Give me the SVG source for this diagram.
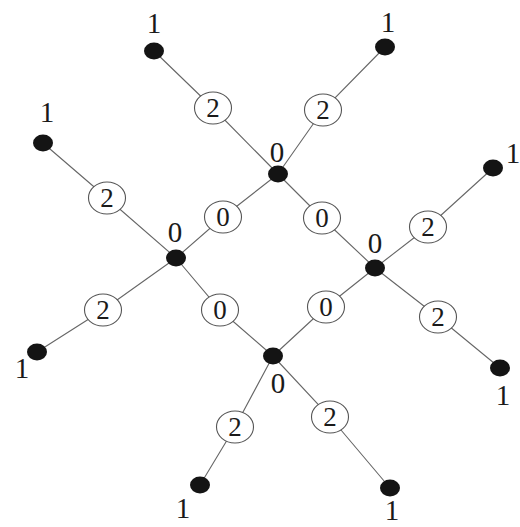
<svg xmlns="http://www.w3.org/2000/svg" width="520" height="527" viewBox="0 0 520 527">
<style>
.e{fill:none;stroke:#666;stroke-width:1.1}
.w{fill:#fff;stroke:#555;stroke-width:1.1}
.d{fill:#141414}
text{font-family:"Liberation Serif","Times New Roman",serif;fill:#1a1a1a;text-anchor:middle}
.n{font-size:29px}
.l{font-size:27px}
</style>
<rect width="520" height="527" fill="#fff"/>
<g id="connectors">
<polyline class="e" points="154,51 213,108 278,174"/>
<polyline class="e" points="385,47 323,110 278,174"/>
<polyline class="e" points="43,143 107,198 176,258"/>
<polyline class="e" points="278,174 223,217 176,258"/>
<polyline class="e" points="278,174 322,218 375,268"/>
<polyline class="e" points="493,168 428,227 375,268"/>
<polyline class="e" points="176,258 103,310 37,352"/>
<polyline class="e" points="176,258 220,310 273,356"/>
<polyline class="e" points="375,268 326,307 273,356"/>
<polyline class="e" points="375,268 438,317 500,368"/>
<polyline class="e" points="273,356 235,427 200,485"/>
<polyline class="e" points="273,356 330,417 390,488"/>
</g>
<g id="edge-labels">
<g id="e1"><ellipse class="w" cx="213" cy="108" rx="18.5" ry="16"/><text class="l" x="213" y="117">2</text></g>
<g id="e2"><ellipse class="w" cx="323" cy="110" rx="18.5" ry="16"/><text class="l" x="323" y="119">2</text></g>
<g id="e3"><ellipse class="w" cx="107" cy="198" rx="18.5" ry="16"/><text class="l" x="107" y="207">2</text></g>
<g id="e4"><ellipse class="w" cx="223" cy="217" rx="18.5" ry="16"/><text class="l" x="223" y="226">0</text></g>
<g id="e5"><ellipse class="w" cx="322" cy="218" rx="18.5" ry="16"/><text class="l" x="322" y="227">0</text></g>
<g id="e6"><ellipse class="w" cx="428" cy="227" rx="18.5" ry="16"/><text class="l" x="428" y="236">2</text></g>
<g id="e7"><ellipse class="w" cx="103" cy="310" rx="18.5" ry="16"/><text class="l" x="103" y="319">2</text></g>
<g id="e8"><ellipse class="w" cx="220" cy="310" rx="18.5" ry="16"/><text class="l" x="220" y="319">0</text></g>
<g id="e9"><ellipse class="w" cx="326" cy="307" rx="18.5" ry="16"/><text class="l" x="326" y="316">0</text></g>
<g id="e10"><ellipse class="w" cx="438" cy="317" rx="18.5" ry="16"/><text class="l" x="438" y="326">2</text></g>
<g id="e11"><ellipse class="w" cx="235" cy="427" rx="18.5" ry="16"/><text class="l" x="235" y="436">2</text></g>
<g id="e12"><ellipse class="w" cx="330" cy="417" rx="18.5" ry="16"/><text class="l" x="330" y="426">2</text></g>
</g>
<g id="nT"><ellipse class="d" cx="278" cy="174" rx="10" ry="8.5"/><text class="n" x="277" y="162">0</text></g>
<g id="nL"><ellipse class="d" cx="176" cy="258" rx="10" ry="8.5"/><text class="n" x="175" y="242">0</text></g>
<g id="nR"><ellipse class="d" cx="375" cy="268" rx="10" ry="8.5"/><text class="n" x="375" y="253">0</text></g>
<g id="nB"><ellipse class="d" cx="273" cy="356" rx="10" ry="8.5"/><text class="n" x="278" y="393">0</text></g>
<g id="leafTL"><ellipse class="d" cx="154" cy="51" rx="10" ry="8.5"/><text class="n" x="154" y="33">1</text></g>
<g id="leafTR"><ellipse class="d" cx="385" cy="47" rx="10" ry="8.5"/><text class="n" x="388" y="32">1</text></g>
<g id="leafLL"><ellipse class="d" cx="43" cy="143" rx="10" ry="8.5"/><text class="n" x="47" y="122">1</text></g>
<g id="leafRR"><ellipse class="d" cx="493" cy="168" rx="10" ry="8.5"/><text class="n" x="513" y="163">1</text></g>
<g id="leafLB"><ellipse class="d" cx="37" cy="352" rx="10" ry="8.5"/><text class="n" x="22" y="378">1</text></g>
<g id="leafRB"><ellipse class="d" cx="500" cy="368" rx="10" ry="8.5"/><text class="n" x="503" y="405">1</text></g>
<g id="leafBL"><ellipse class="d" cx="200" cy="485" rx="10" ry="8.5"/><text class="n" x="183" y="518">1</text></g>
<g id="leafBR"><ellipse class="d" cx="390" cy="488" rx="10" ry="8.5"/><text class="n" x="392" y="520">1</text></g>
</svg>
